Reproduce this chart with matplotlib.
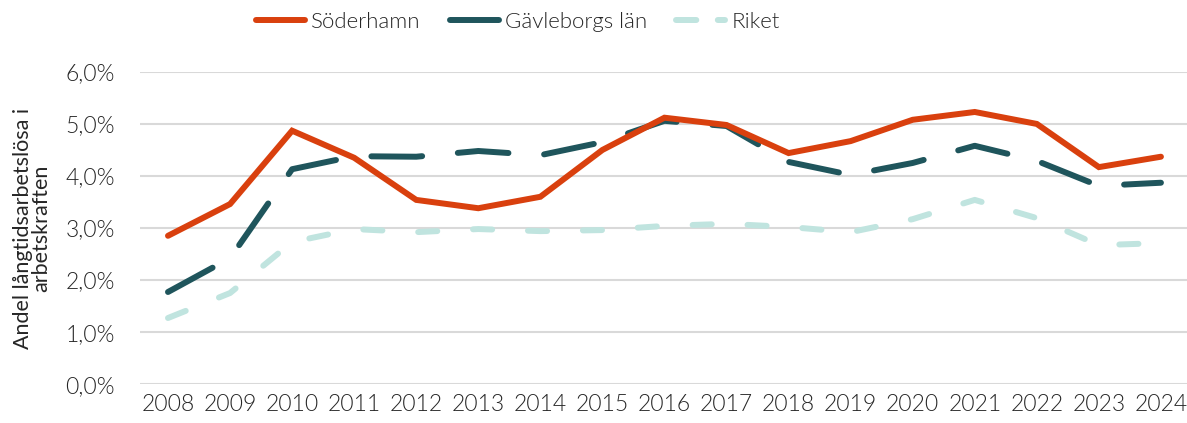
import matplotlib
matplotlib.use('Agg')
import matplotlib.pyplot as plt
from matplotlib.lines import Line2D
from matplotlib.ticker import FuncFormatter

# Values (share in percent)
years = list(range(2008, 2025))
soderhamn = [2.85, 3.46, 4.87, 4.35, 3.54, 3.38, 3.60, 4.50, 5.12, 4.98,
             4.44, 4.67, 5.08, 5.23, 5.00, 4.17, 4.37]
gavleborg = [1.77, 2.42, 4.13, 4.38, 4.37, 4.48, 4.40, 4.65, 5.06, 4.96,
             4.27, 4.02, 4.25, 4.58, 4.29, 3.81, 3.87]
riket = [1.27, 1.75, 2.73, 2.98, 2.92, 2.98, 2.94, 2.96, 3.04, 3.08,
         3.02, 2.92, 3.17, 3.54, 3.19, 2.67, 2.71]

plt.rcParams['font.family'] = ['Lato', 'DejaVu Sans']
plt.rcParams['font.weight'] = 300

fig = plt.figure(figsize=(11.87, 4.23), dpi=100)
ax = fig.add_axes([0.118, 0.092, 0.882, 0.738])

x = list(range(len(years)))
lw = 4.3
ax.plot(x, soderhamn, color='#d9400e', lw=lw, solid_capstyle='round',
        solid_joinstyle='miter', zorder=3)
ax.plot(x, gavleborg, color='#1f555c', lw=lw, dashes=(8.5, 6), dash_capstyle='round',
        zorder=2)
ax.plot(x, riket, color='#c0e4df', lw=lw, dashes=(3.2, 6), dash_capstyle='round',
        zorder=1)

ax.set_xlim(-0.45, 16.42)
ax.set_ylim(0, 6)
ax.set_yticks([0, 1, 2, 3, 4, 5, 6])
ax.yaxis.set_major_formatter(FuncFormatter(lambda v, p: f'{v:.1f}%'.replace('.', ',')))
ax.set_xticks(x)
ax.set_xticklabels([str(y) for y in years])
ax.tick_params(length=0, labelsize=16.5, labelcolor='#262626', pad=7)
ax.tick_params(axis='y', pad=18)
ax.grid(axis='y', color='#d9d9d9', lw=1.5)
ax.set_axisbelow(True)
for s in ax.spines.values():
    s.set_visible(False)

ax.set_ylabel('Andel långtidsarbetslösa i\narbetskraften', fontsize=15.5, color='#262626',
              labelpad=10, linespacing=0.9)

# legend handles (the dashes look a bit tighter in the legend)
handles = [
    Line2D([], [], color='#d9400e', lw=lw, solid_capstyle='round'),
    Line2D([], [], color='#1f555c', lw=lw, dashes=(9, 4), dash_capstyle='round'),
    Line2D([], [], color='#c0e4df', lw=lw, dashes=(3.4, 3.6), dash_capstyle='round'),
]
labels = ['Söderhamn', 'Gävleborgs län', 'Riket']
ax.legend(handles, labels, loc='center', bbox_to_anchor=(0.361, 1.16), ncol=3,
          frameon=False, fontsize=16, handlelength=2.2, columnspacing=1.3,
          handletextpad=0.3, labelcolor='#262626')

fig.savefig('out.png', dpi=100)
